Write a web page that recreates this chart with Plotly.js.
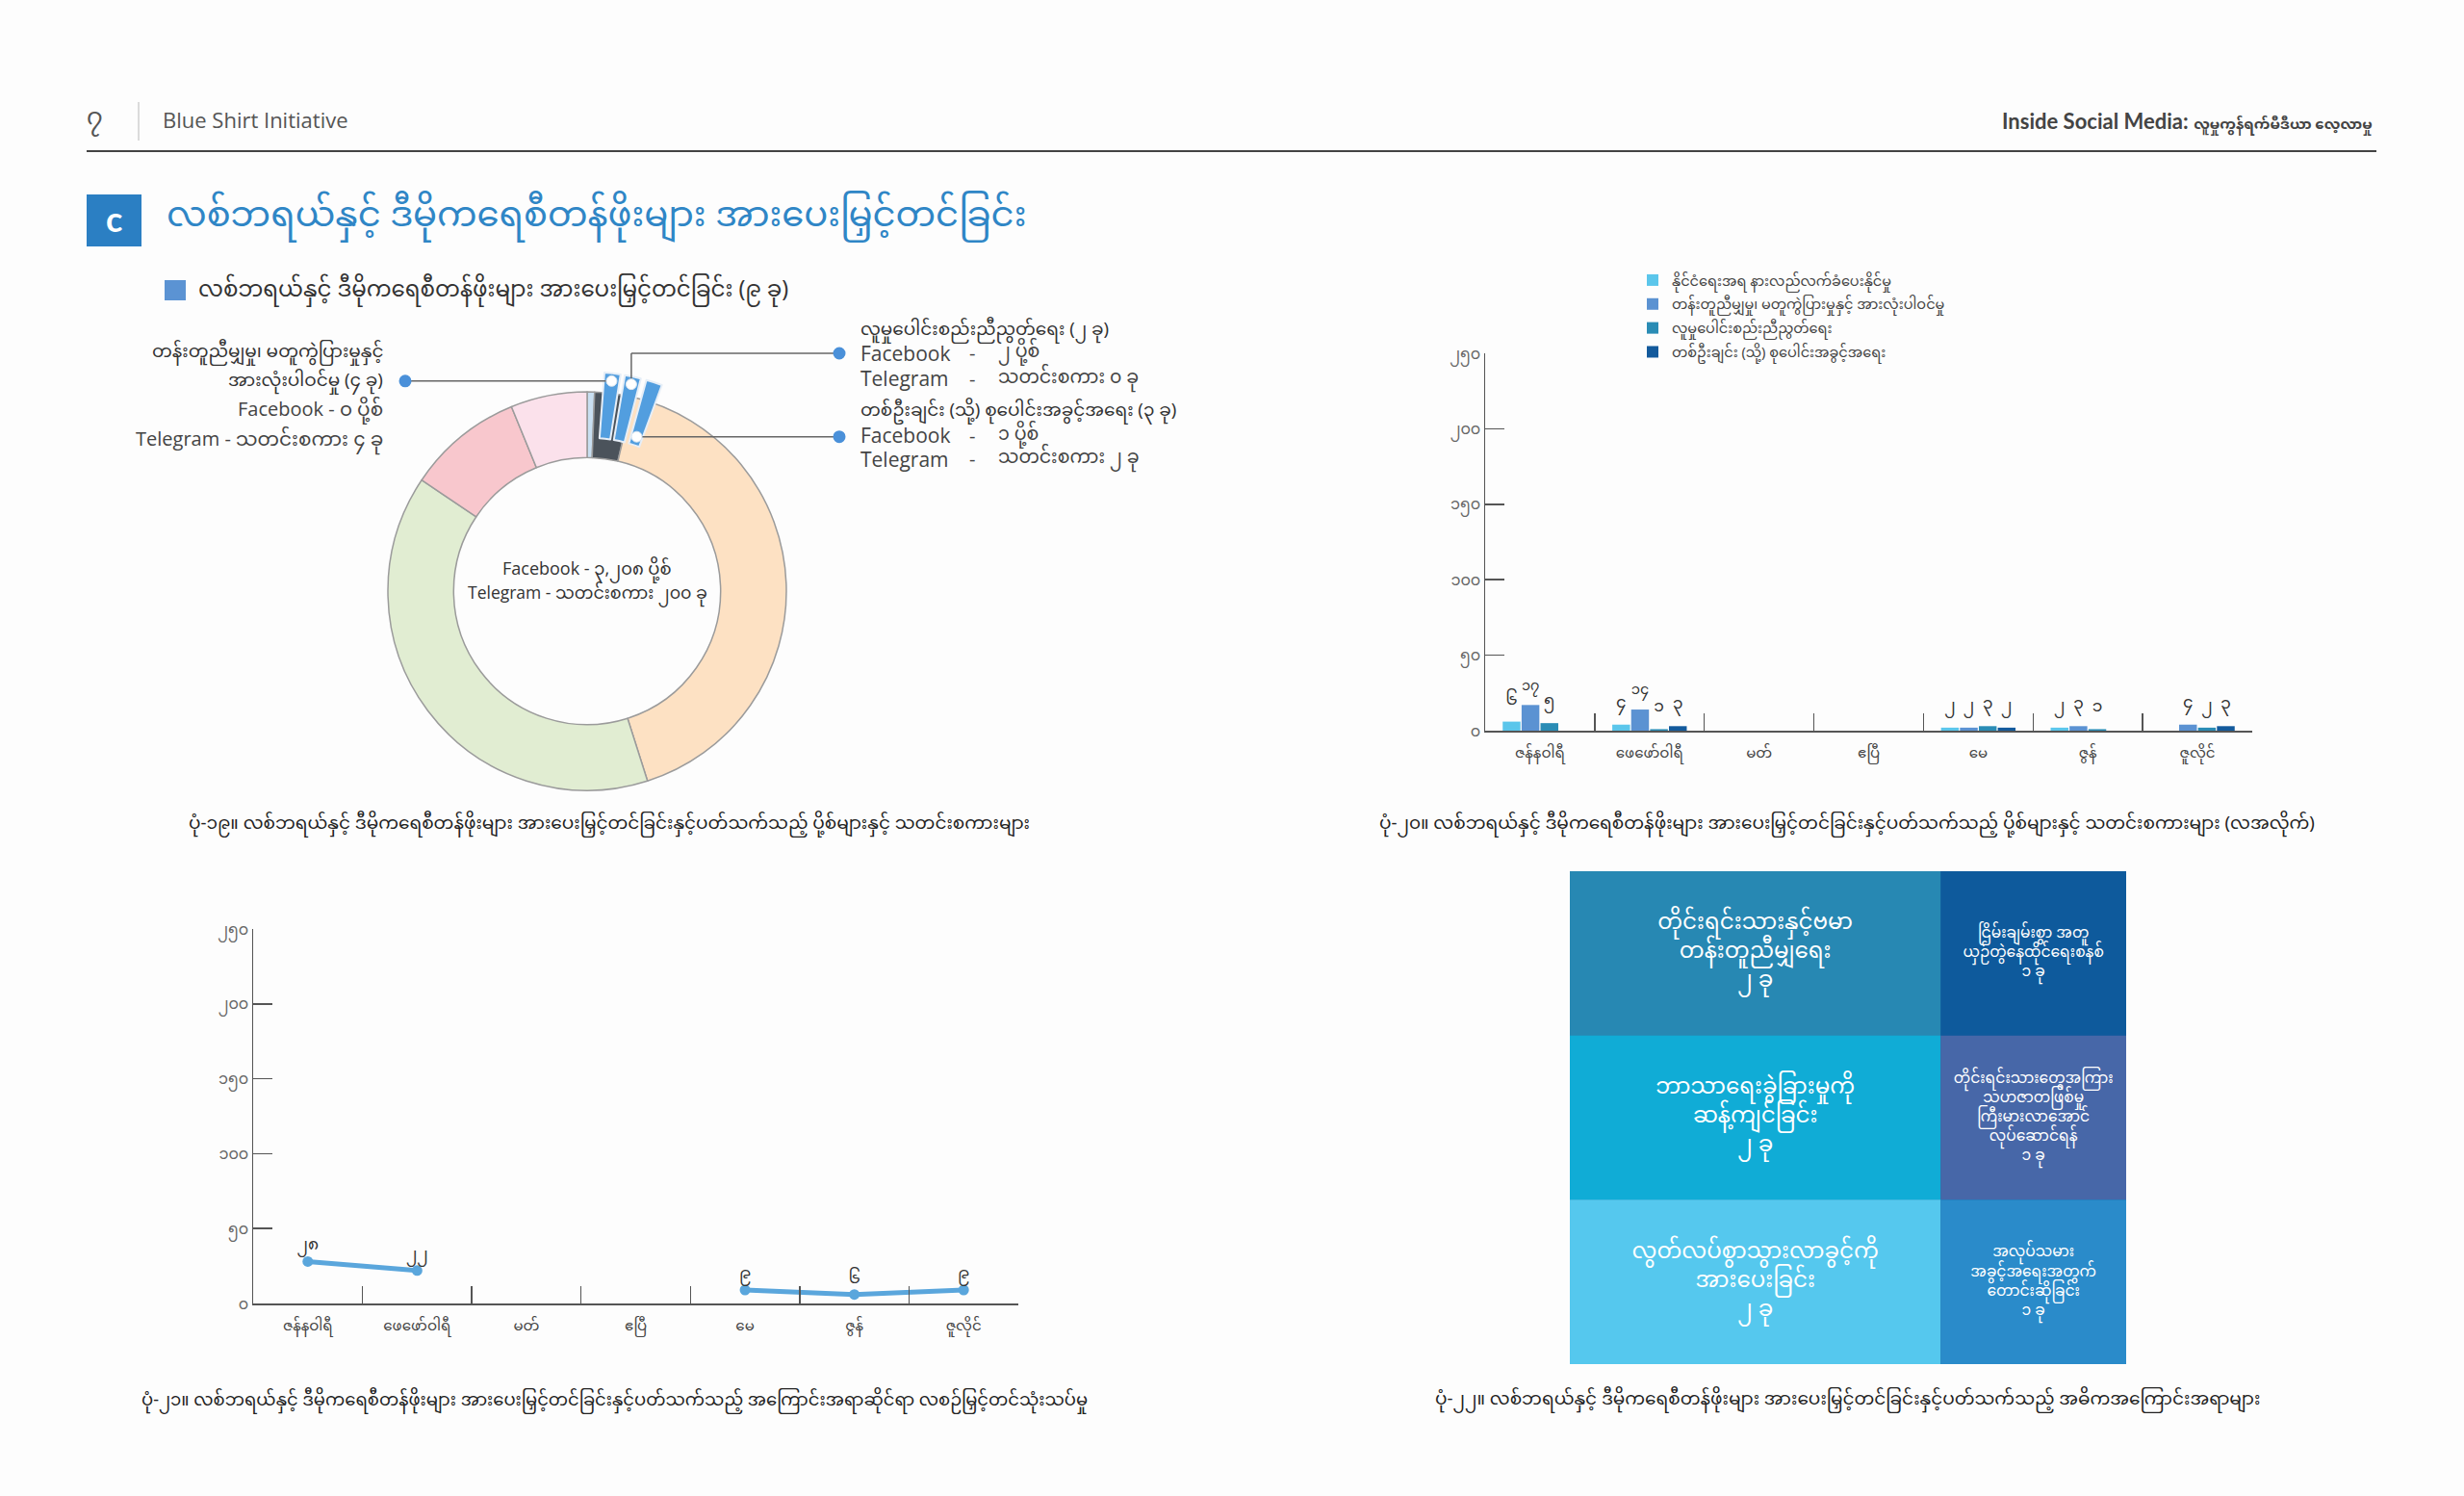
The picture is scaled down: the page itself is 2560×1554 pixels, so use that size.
<!DOCTYPE html>
<html><head><meta charset="utf-8">
<script src="https://cdn.plot.ly/plotly-3.0.1.min.js"></script>
<style>html,body{margin:0;padding:0;background:#fdfdfd}#chart{width:2560px;height:1554px}</style>
</head><body><div id="chart"></div><script>
// ---------------- data ----------------
const months = ['ဇန်နဝါရီ','ဖေဖော်ဝါရီ','မတ်','ဧပြီ','မေ','ဇွန်','ဇူလိုင်'];
const seriesNames = [
  'နိုင်ငံရေးအရ နားလည်လက်ခံပေးနိုင်မှု',
  'တန်းတူညီမျှမှု၊ မတူကွဲပြားမှုနှင့် အားလုံးပါဝင်မှု',
  'လူမှုပေါင်းစည်းညီညွတ်ရေး',
  'တစ်ဦးချင်း (သို့) စုပေါင်းအခွင့်အရေး'
];
const politicalTolerance = [6, 4, 0, 0, 2, 2, 0];
const equalityDiversity  = [17, 14, 0, 0, 2, 3, 4];
const socialCohesion     = [5, 1, 0, 0, 3, 1, 2];
const individualRights   = [0, 3, 0, 0, 2, 0, 3];
const monthlyTotals      = [28, 22, null, null, 9, 6, 9];
const yTickVals = [0, 50, 100, 150, 200, 250];

const donutSegments = ['ca','cb','a','b','d','e'];
const donutShares   = [0.6, 3.1, 41.4, 39.3, 9.4, 6.2];
const subSliceNames  = ['gap0','equality','gap1','cohesion','gap2','rights','rest'];
const subSliceShares = [1.2, 1.3, 0.2, 1.3, 0.3, 1.3, 94.4];

const fbTotal = 3208, tgTotal = 200;
const subTopics = [
  {name:'တန်းတူညီမျှမှု၊ မတူကွဲပြားမှုနှင့်', name2:'အားလုံးပါဝင်မှု', items:4, fb:0, tg:4},
  {name:'လူမှုပေါင်းစည်းညီညွတ်ရေး', items:2, fb:2, tg:0},
  {name:'တစ်ဦးချင်း (သို့) စုပေါင်းအခွင့်အရေး', items:3, fb:1, tg:2}
];

const themeIds    = ['root','major','minor','t1','t2','t3','t4','t5','t6'];
const themeParents= ['','root','root','major','major','major','minor','minor','minor'];
const themeCounts = [0,0,0,2,2,2,1,1,1];
const themeNames  = ['','','',
  'တိုင်းရင်းသားနှင့်ဗမာ<br>တန်းတူညီမျှရေး',
  'ဘာသာရေးခွဲခြားမှုကို<br>ဆန့်ကျင်ခြင်း',
  'လွတ်လပ်စွာသွားလာခွင့်ကို<br>အားပေးခြင်း',
  'ငြိမ်းချမ်းစွာ အတူ<br>ယှဉ်တွဲနေထိုင်ရေးစနစ်',
  'တိုင်းရင်းသားတွေအကြား<br>သဟဇာတဖြစ်မှု<br>ကြီးမားလာအောင်<br>လုပ်ဆောင်ရန်',
  'အလုပ်သမား<br>အခွင့်အရေးအတွက်<br>တောင်းဆိုခြင်း'];

// ---------------- helpers ----------------
const W = 2560, H = 1554;
const MY = "'Noto Sans Myanmar','Padauk','Myanmar Text','Noto Sans',sans-serif";
const LAT = "'Open Sans','Noto Sans Myanmar','Padauk',sans-serif";
const my = n => String(n).replace(/\d/g, d => '၀၁၂၃၄၅၆၇၈၉'[d]);
const myComma = n => my(n.toLocaleString('en-US'));
const px = x => x / W, py = y => 1 - y / H;

function ann(text, x, y, o) {
  o = o || {};
  return {text, x: px(x), y: py(y), xref:'paper', yref:'paper', showarrow:false,
    xanchor: o.xa || 'left', yanchor: o.ya || 'middle', align: o.align || 'left',
    font: {family: o.fam || MY, size: o.size || 20, color: o.color || '#333'}};
}
function line(x0,y0,x1,y1,c,w){return {type:'line',xref:'paper',yref:'paper',x0:px(x0),y0:py(y0),x1:px(x1),y1:py(y1),line:{color:c||'#666',width:w||1.5}};}
function circ(cx,cy,r,fill,lc,lw){return {type:'circle',xref:'paper',yref:'paper',x0:px(cx-r),x1:px(cx+r),y0:py(cy+r),y1:py(cy-r),fillcolor:fill,line:{color:lc||fill,width:lw||0}};}
function rect(x0,y0,x1,y1,fill){return {type:'rect',xref:'paper',yref:'paper',x0:px(x0),x1:px(x1),y0:py(y1),y1:py(y0),fillcolor:fill,line:{width:0}};}

// ---------------- traces ----------------
const barColors = ['#5bc6eb','#5b92d2','#2a8cb5','#135a9c'];
const barSeries = [politicalTolerance, equalityDiversity, socialCohesion, individualRights];
const traces = barSeries.map((vals, i) => ({
  type:'bar', x: months, y: vals, name: seriesNames[i], legendgroup:'g'+i, xaxis:'x', yaxis:'y',
  marker:{color: barColors[i]},
  text: vals.map(v => v ? my(v) : ''), textposition:'outside', cliponaxis:false,
  textfont:{family:MY, size:17, color:'#333'}, hoverinfo:'skip'
}));

traces.push({
  type:'scatter', mode:'lines+markers+text', x: months, y: monthlyTotals, xaxis:'x2', yaxis:'y2',
  line:{color:'#5aa6dc', width:5}, marker:{color:'#5aa6dc', size:11},
  text: monthlyTotals.map(v => v == null ? '' : my(v)), textposition:'top center',
  textfont:{family:MY, size:17, color:'#333'}, showlegend:false, connectgaps:false, cliponaxis:false, hoverinfo:'skip'
});

// donut geometry
const CX = 610, CY = 614, R = 207, HOLE = 0.67, PULL = 0.1;
traces.push({
  type:'pie', values: donutShares, labels: donutSegments, sort:false, direction:'clockwise', rotation:0,
  hole: HOLE, textinfo:'none', showlegend:false, hoverinfo:'skip',
  marker:{colors:['#c9dff1','#4b535b','#fde1c3','#e1edd2','#f8c7cd','#fbe1eb'], line:{color:'#9b9b9b', width:1.5}},
  domain:{x:[px(CX-R), px(CX+R)], y:[py(CY+R), py(CY-R)]}
});
const RO = R * (1 + PULL);
const isSub = i => (i===1||i===3||i===5);
traces.push({
  type:'pie', values: subSliceShares, labels: subSliceNames, sort:false, direction:'clockwise', rotation:0,
  hole: HOLE, textinfo:'none', showlegend:false, hoverinfo:'skip',
  pull: subSliceShares.map((v,i) => isSub(i) ? PULL : 0),
  marker:{colors: subSliceShares.map((v,i) => isSub(i) ? '#529edf' : 'rgba(0,0,0,0)'),
          line:{color: subSliceShares.map((v,i) => isSub(i) ? '#e6eef7' : 'rgba(0,0,0,0)'), width: subSliceShares.map((v,i) => isSub(i) ? 2 : 0)}},
  domain:{x:[px(CX-RO), px(CX+RO)], y:[py(CY+RO), py(CY-RO)]}
});

traces.push({
  type:'treemap', ids: themeIds, parents: themeParents, values: themeCounts, labels: themeIds,
  branchvalues:'remainder', sort:false,
  text: themeNames.map((t,i) => t ? t + '<br>' + my(themeCounts[i]) + ' ခု' : ''),
  texttemplate:'%{text}', textposition:'middle center',
  textfont:{family:MY, size: themeCounts.map(v => v === 2 ? 23 : 15.5), color:'#ffffff'},
  tiling:{packing:'slice-dice', pad:0},
  marker:{colors:['#2788b3','#2788b3','#0e5a9c','#2788b3','#10acd6','#55c8ee','#0e5a9c','#4767a8','#2a8bca'],
          line:{width:0}, pad:{t:0,l:0,r:0,b:0}},
  pathbar:{visible:false}, hoverinfo:'skip',
  domain:{x:[px(1631), px(2209)], y:[py(1417), py(905)]}
});

// ---------------- annotations & shapes ----------------
const annotations = [], shapes = [];
// header
annotations.push(ann('၇', 98, 124, {size:26, color:'#555', xa:'center', fam:MY}));
shapes.push(line(144,106,144,146,'#cfcfcf',1.5));
annotations.push(ann('Blue Shirt Initiative', 167, 124, {size:22, color:'#555', fam:"'Open Sans','Lato',sans-serif"}));
annotations.push(ann('<b>Inside Social Media:</b> <b><span style="font-size:15px">လူမှုကွန်ရက်မီဒီယာ လေ့လာမှု</span></b>', 2467, 126, {xa:'right', size:22, color:'#444', fam:"'Lato','Noto Sans Myanmar','Padauk',sans-serif"}));
shapes.push(line(90,157,2469,157,'#444',2));
// section title
shapes.push(rect(90,202,147,256,'#2b7fc3'));
annotations.push(ann('<b>c</b>', 118, 227, {xa:'center', size:36, color:'#ffffff', fam:"'Lato','Open Sans',sans-serif"}));
annotations.push(ann('လစ်ဘရယ်နှင့် ဒီမိုကရေစီတန်ဖိုးများ အားပေးမြှင့်တင်ခြင်း', 171, 227, {size:37, color:'#2f86c6'}));
shapes.push(rect(171,291,193,312,'#5b93d3'));
annotations.push(ann('လစ်ဘရယ်နှင့် ဒီမိုကရေစီတန်ဖိုးများ အားပေးမြှင့်တင်ခြင်း (' + my(9) + ' ခု)', 204, 303, {size:23, color:'#333'}));

// donut labels (left)
const s0 = subTopics[0], s1 = subTopics[1], s2 = subTopics[2];
annotations.push(ann(s0.name, 400, 367, {xa:'right', size:18.5}));
annotations.push(ann(s0.name2 + ' (' + my(s0.items) + ' ခု)', 400, 397, {xa:'right', size:18.5}));
annotations.push(ann('Facebook - ' + my(s0.fb) + ' ပို့စ်', 400, 426, {xa:'right', size:20, fam:LAT, color:'#444'}));
annotations.push(ann('Telegram - သတင်းစကား ' + my(s0.tg) + ' ခု', 400, 457, {xa:'right', size:20, fam:LAT, color:'#444'}));
// donut labels (right)
const RL = 892, RD = 1010, RV = 1035;
annotations.push(ann(s1.name + ' (' + my(s1.items) + ' ခု)', RL, 344, {size:18.5}));
annotations.push(ann('Facebook', RL, 367, {size:21, fam:LAT, color:'#444'}));
annotations.push(ann('-', RD, 367, {size:20, fam:LAT, color:'#444', xa:'center'}));
annotations.push(ann(my(s1.fb) + ' ပို့စ်', RV, 367, {size:19, color:'#444'}));
annotations.push(ann('Telegram', RL, 393, {size:21, fam:LAT, color:'#444'}));
annotations.push(ann('-', RD, 393, {size:20, fam:LAT, color:'#444', xa:'center'}));
annotations.push(ann('သတင်းစကား ' + my(s1.tg) + ' ခု', RV, 393, {size:19, color:'#444'}));
annotations.push(ann(s2.name + ' (' + my(s2.items) + ' ခု)', RL, 428, {size:18.5}));
annotations.push(ann('Facebook', RL, 452, {size:21, fam:LAT, color:'#444'}));
annotations.push(ann('-', RD, 452, {size:20, fam:LAT, color:'#444', xa:'center'}));
annotations.push(ann(my(s2.fb) + ' ပို့စ်', RV, 452, {size:19, color:'#444'}));
annotations.push(ann('Telegram', RL, 477, {size:21, fam:LAT, color:'#444'}));
annotations.push(ann('-', RD, 477, {size:20, fam:LAT, color:'#444', xa:'center'}));
annotations.push(ann('သတင်းစကား ' + my(s2.tg) + ' ခု', RV, 477, {size:19, color:'#444'}));
// donut centre
annotations.push(ann('Facebook - ' + myComma(fbTotal) + ' ပို့စ်', CX, 591, {xa:'center', size:18, fam:LAT, color:'#333'}));
annotations.push(ann('Telegram - သတင်းစကား ' + my(tgTotal) + ' ခု', CX, 617, {xa:'center', size:17.5, fam:LAT, color:'#333'}));

// leader lines from pulled sub slices
const deg = Math.PI/180;
function polar(r, a){ return [CX + r*Math.sin(a*deg), CY - r*Math.cos(a*deg)]; }
const cum = []; subSliceShares.reduce((acc,v) => { cum.push(acc + v/2); return acc + v; }, 0);
const bis = cum.map(c => c/100*360);
const pOff = R*PULL;
const t1 = polar(R + pOff - 8, bis[1]);
const t2 = polar(R + pOff - 8, bis[3]);
const b3 = polar(R*HOLE + pOff + 9, bis[5]);
shapes.push(line(421, t1[1], t1[0], t1[1], '#666', 1.5));
shapes.push(circ(421, t1[1], 6.5, '#4a90d9'));
shapes.push(line(t2[0], t2[1], t2[0], 367, '#666', 1.5));
shapes.push(line(t2[0], 367, 872, 367, '#666', 1.5));
shapes.push(circ(872, 367, 6.5, '#4a90d9'));
shapes.push(line(b3[0], b3[1], 872, b3[1], '#666', 1.5));
shapes.push(circ(872, b3[1], 6.5, '#4a90d9'));
[t1, t2, b3].forEach(p => shapes.push(circ(p[0], p[1], 5.5, '#ffffff', '#dde6ef', 1)));

// captions
const capFont = {size:18.5, color:'#222'};
annotations.push(ann('ပုံ-၁၉။ လစ်ဘရယ်နှင့် ဒီမိုကရေစီတန်ဖိုးများ အားပေးမြှင့်တင်ခြင်းနှင့်ပတ်သက်သည့် ပို့စ်များနှင့် သတင်းစကားများ', 633, 857, Object.assign({xa:'center'}, capFont)));
annotations.push(ann('ပုံ-၂၀။ လစ်ဘရယ်နှင့် ဒီမိုကရေစီတန်ဖိုးများ အားပေးမြှင့်တင်ခြင်းနှင့်ပတ်သက်သည့် ပို့စ်များနှင့် သတင်းစကားများ (လအလိုက်)', 1919, 857, Object.assign({xa:'center'}, capFont)));
annotations.push(ann('ပုံ-၂၁။ လစ်ဘရယ်နှင့် ဒီမိုကရေစီတန်ဖိုးများ အားပေးမြှင့်တင်ခြင်းနှင့်ပတ်သက်သည့် အကြောင်းအရာဆိုင်ရာ လစဉ်မြှင့်တင်သုံးသပ်မှု', 638, 1455, Object.assign({xa:'center'}, capFont, {size:18})));
annotations.push(ann('ပုံ-၂၂။ လစ်ဘရယ်နှင့် ဒီမိုကရေစီတန်ဖိုးများ အားပေးမြှင့်တင်ခြင်းနှင့်ပတ်သက်သည့် အဓိကအကြောင်းအရာများ', 1919, 1455, Object.assign({xa:'center'}, capFont)));

// ---------------- axes ----------------
function xAx(domain, anchor){ return {domain, anchor, type:'category', range:[-0.5, 6.5], showline:true, linecolor:'#555', linewidth:1.5,
  ticks:'inside', tickson:'boundaries', ticklen:18, tickwidth:1.5, tickcolor:'#555', showgrid:false, zeroline:false,
  ticklabelstandoff:8, tickfont:{family:MY, size:15, color:'#444'}, fixedrange:true}; }
function yAx(domain, anchor){ return {domain, anchor, range:[0, 250], tickvals:yTickVals, ticktext:yTickVals.map(my),
  showline:true, linecolor:'#555', linewidth:1.5, ticks:'inside', ticklen:20, tickwidth:1.5, tickcolor:'#555',
  showgrid:false, zeroline:false, tickfont:{family:MY, size:16, color:'#666'}, fixedrange:true}; }

const layout = {
  width: W, height: H, margin:{l:0, r:0, t:0, b:0},
  paper_bgcolor:'#fdfdfd', plot_bgcolor:'rgba(0,0,0,0)',
  font:{family:MY, color:'#333'},
  barmode:'group', bargap:0.31, bargroupgap:0.06,
  xaxis: xAx([px(1543), px(2340)], 'y'),
  yaxis: yAx([py(759), py(367)], 'x'),
  xaxis2: xAx([px(263), px(1058)], 'y2'),
  yaxis2: yAx([py(1354), py(965)], 'x2'),
  showlegend:true,
  legend:{x: px(1697), y: py(275), xanchor:'left', yanchor:'top', bgcolor:'rgba(0,0,0,0)',
    font:{family:MY, size:14.5, color:'#444'}, itemwidth:30, tracegroupgap:3, traceorder:'grouped'},
  annotations, shapes
};

Plotly.newPlot('chart', traces, layout, {displayModeBar:false, staticPlot:true});
</script></body></html>
